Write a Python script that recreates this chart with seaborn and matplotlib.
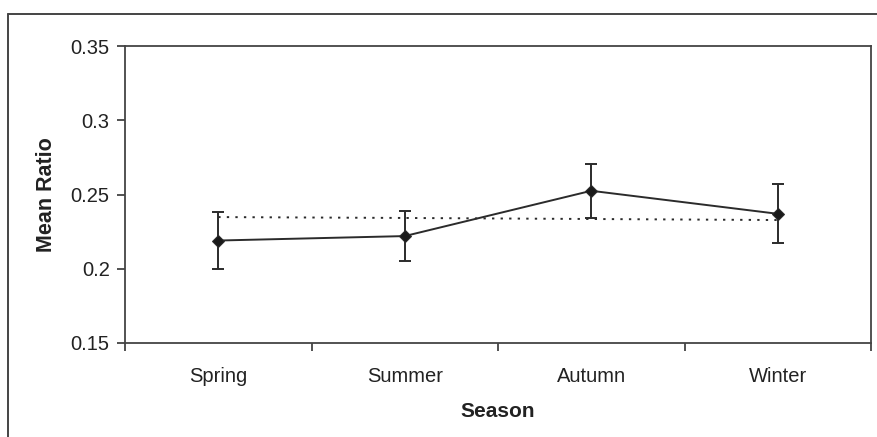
import matplotlib
matplotlib.use("Agg")
import matplotlib.pyplot as plt
import seaborn as sns
import numpy as np
import pandas as pd
from matplotlib.lines import Line2D

# data
seasons = ["Spring", "Summer", "Autumn", "Winter"]
mean_ratio = [0.219, 0.222, 0.2525, 0.237]
err = [0.0195, 0.017, 0.018, 0.0198]
overall = [0.2348, 0.2342, 0.2335, 0.2328]

sns.set_theme(style="white")
plt.rcParams['font.family'] = ['Liberation Sans', 'DejaVu Sans']

df = pd.DataFrame({"pos": np.arange(len(seasons)), "season": seasons,
                   "ratio": mean_ratio, "err": err, "overall": overall})

fig = plt.figure(figsize=(8.77, 4.37), dpi=100)
ax = fig.add_axes([125 / 877, 1 - 343 / 437, (871 - 125) / 877, (343 - 46) / 437])

line_col = "#2b2b2b"

# dotted reference line
sns.lineplot(data=df, x="pos", y="overall", ax=ax, color=line_col,
             linestyle=(0, (1.2, 3.2)), linewidth=1.4, estimator=None)

# main series with error bars
ax.errorbar(df["pos"], df["ratio"], yerr=df["err"], fmt="none",
            ecolor=line_col, elinewidth=1.4, capsize=4.5, capthick=1.4, zorder=3)
sns.lineplot(data=df, x="pos", y="ratio", ax=ax, color=line_col,
             linewidth=1.4, marker="D", markersize=6.5, markeredgecolor=line_col,
             markerfacecolor="#1a1a1a", estimator=None, zorder=4)

ax.set_xlim(-0.5, len(seasons) - 0.5)
ax.set_ylim(0.15, 0.35)
ax.set_yticks([0.15, 0.2, 0.25, 0.3, 0.35])
ax.set_yticklabels(["0.15", "0.2", "0.25", "0.3", "0.35"])

# major ticks at category boundaries, labels at centers
ax.set_xticks(np.arange(len(seasons) + 1) - 0.5)
ax.set_xticklabels([])
ax.set_xticks(np.arange(len(seasons)), minor=True)
ax.set_xticklabels(seasons, minor=True)
ax.tick_params(axis="x", which="minor", length=0, pad=17, labelsize=14.5, colors="#222222")
ax.tick_params(axis="x", which="major", length=6, width=1.2, direction="out",
               bottom=True, color="#333333")
ax.tick_params(axis="y", length=6, width=1.2, direction="out", left=True,
               labelsize=14.5, colors="#222222", color="#333333", pad=5)

ax.set_xlabel("Season", fontsize=15, fontweight="bold", color="#222222", labelpad=12)
ax.set_ylabel("Mean Ratio", fontsize=15.5, fontweight="bold", color="#222222", labelpad=10)

for s in ax.spines.values():
    s.set_color("#444444")
    s.set_linewidth(1.3)

# outer frame (only top and left visible in the crop)
fig.add_artist(Line2D([8 / 877, 1.0], [1 - 14 / 437, 1 - 14 / 437], color="#444444", lw=1.4))
fig.add_artist(Line2D([8 / 877, 8 / 877], [0, 1 - 14 / 437], color="#444444", lw=1.4))

fig.savefig("out.png", dpi=100, facecolor="white")
